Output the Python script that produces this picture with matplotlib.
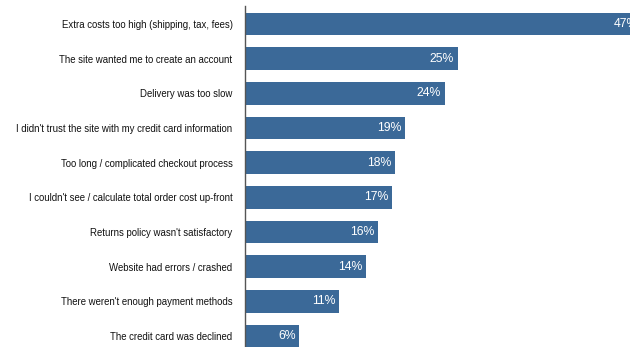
"""Horizontal bar chart: reasons for abandoning checkout."""

import matplotlib

matplotlib.use("Agg")
import matplotlib.pyplot as plt  # noqa: E402

REASONS = [
    "Extra costs too high (shipping, tax, fees)",
    "The site wanted me to create an account",
    "Delivery was too slow",
    "I didn't trust the site with my credit card information",
    "Too long / complicated checkout process",
    "I couldn't see / calculate total order cost up-front",
    "Returns policy wasn't satisfactory",
    "Website had errors / crashed",
    "There weren't enough payment methods",
    "The credit card was declined",
]
SHARES = [46.7, 25.0, 23.5, 18.8, 17.6, 17.3, 15.6, 14.2, 11.1, 6.35]
SHARE_LABELS = ["47%", "25%", "24%", "19%", "18%", "17%", "16%", "14%", "11%", "6%"]

BAR_COLOR = "#3b6998"

plt.rcParams["font.family"] = ["Liberation Sans", "DejaVu Sans"]

figure = plt.figure(figsize=(6.3, 3.47), dpi=100)
axis = figure.add_axes((245 / 630, 0, 425 / 630, 341 / 347))

positions = range(len(REASONS))
bars = axis.barh(positions, SHARES, height=0.655, color=BAR_COLOR)

for bar, label in zip(bars, SHARE_LABELS):
    axis.annotate(
        label,
        (bar.get_width(), bar.get_y() + bar.get_height() / 2),
        xytext=(-2.5, 0),
        textcoords="offset points",
        ha="right",
        va="center",
        color="white",
        fontsize=8.8,
    )

axis.set_xlim(0, 50)
axis.set_ylim(9.32, -0.52)
axis.set_yticks(list(positions))
axis.set_yticklabels(REASONS, fontsize=6.9, color="#111111")
axis.tick_params(axis="y", length=0, pad=9)
axis.set_xticks([])
for side in ("top", "right", "bottom"):
    axis.spines[side].set_visible(False)
axis.spines["left"].set_color("#555555")
axis.spines["left"].set_linewidth(1.0)

figure.savefig("out.png", dpi=100)
plt.close(figure)
